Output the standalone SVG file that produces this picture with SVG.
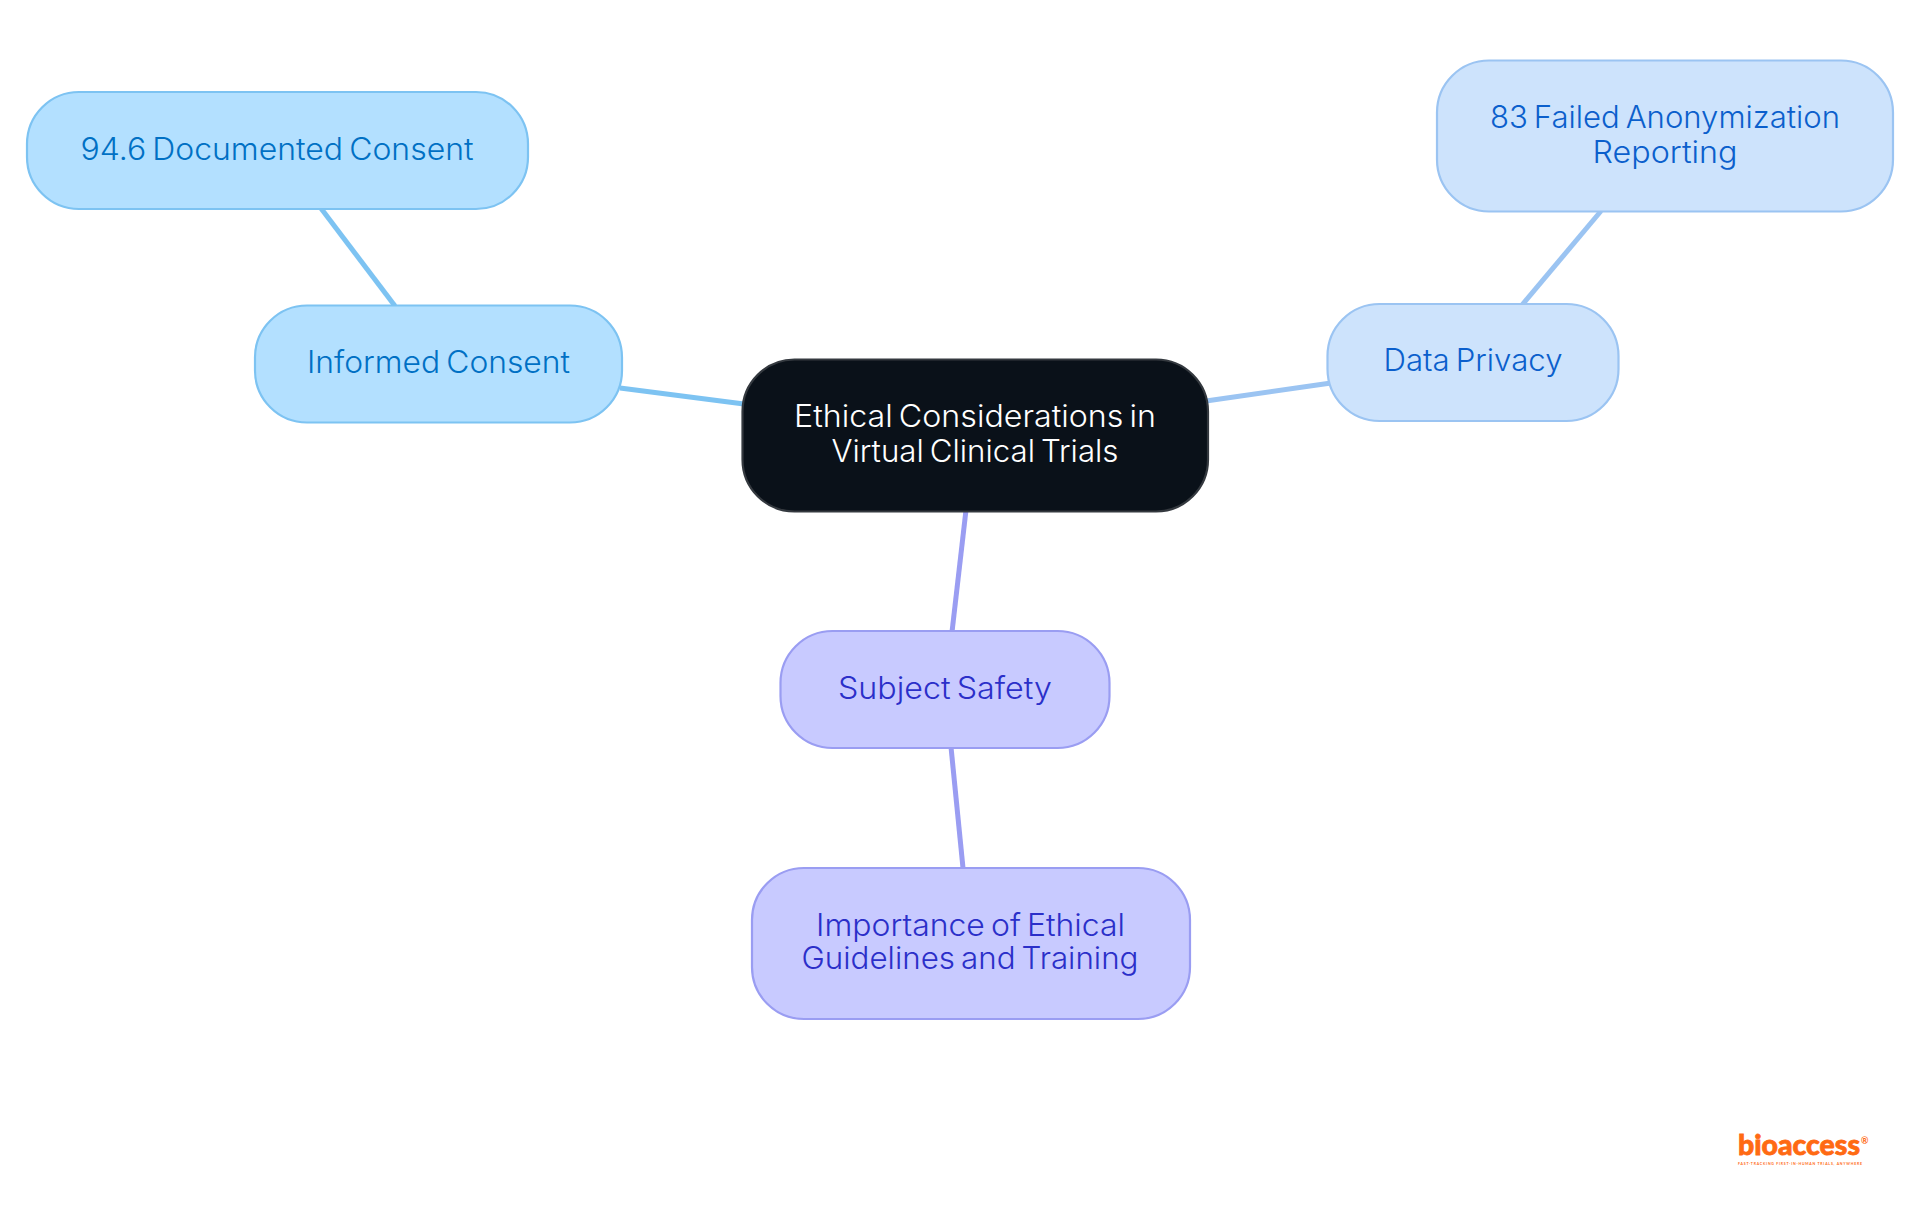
<svg xmlns="http://www.w3.org/2000/svg" width="1920" height="1215" viewBox="0 0 1920 1215">
<style>
text{font-family:"Inter","Noto Sans","Liberation Sans",sans-serif;font-size:30.5px;font-weight:300;text-anchor:middle;word-spacing:-0.09em}
.box{stroke-width:2.2}
.blue rect{fill:#b3e0ff;stroke:#7dc3f2}.blue text{fill:#0070c4}
.sky rect{fill:#cde3fc;stroke:#9bc4f2}.sky text{fill:#0b5fcc}
.vio rect{fill:#c8caff;stroke:#9a9df2}.vio text{fill:#2b2fc9}
.root rect{fill:#0a1119;stroke:#34393f}.root text{fill:#fff}
#connectors line{stroke-width:5;fill:none}
#logo text{fill:#ff6a13;text-anchor:start;font-family:"Lato","Liberation Sans",sans-serif;word-spacing:0}
</style>
<rect width="1920" height="1215" fill="#fff"/>
<g id="connectors">
<line x1="620" y1="388" x2="744" y2="404" stroke="#7dc3f2"/>
<line x1="320" y1="207" x2="395" y2="306" stroke="#7dc3f2"/>
<line x1="1206" y1="401" x2="1331" y2="383" stroke="#9bc4f2"/>
<line x1="1522" y1="305" x2="1601" y2="211" stroke="#9bc4f2"/>
<line x1="966" y1="510" x2="952" y2="632" stroke="#9a9df2"/>
<line x1="951" y1="747" x2="963" y2="868" stroke="#9a9df2"/>
</g>
<g id="node-root" class="root"><rect class="box" x="742.500" y="359.500" width="465.500" height="152" rx="52"/>
<text x="975" y="427" textLength="362" lengthAdjust="spacingAndGlyphs">Ethical Considerations in</text>
<text x="975" y="462" textLength="287" lengthAdjust="spacingAndGlyphs">Virtual Clinical Trials</text></g>
<g id="node-informed" class="blue"><rect class="box" x="255" y="305.500" width="367" height="117" rx="52"/>
<text x="438.500" y="373" textLength="263" lengthAdjust="spacingAndGlyphs">Informed Consent</text></g>
<g id="node-documented" class="blue"><rect class="box" x="27" y="92" width="501" height="117" rx="52"/>
<text x="277" y="160" textLength="393" lengthAdjust="spacingAndGlyphs">94.6 Documented Consent</text></g>
<g id="node-privacy" class="sky"><rect class="box" x="1327.500" y="304" width="291" height="117" rx="52"/>
<text x="1473" y="370.500" textLength="179" lengthAdjust="spacingAndGlyphs">Data Privacy</text></g>
<g id="node-anonymization" class="sky"><rect class="box" x="1437" y="60.500" width="456" height="151" rx="52"/>
<text x="1665" y="128" textLength="350" lengthAdjust="spacingAndGlyphs">83 Failed Anonymization</text>
<text x="1665" y="163" textLength="145" lengthAdjust="spacingAndGlyphs">Reporting</text></g>
<g id="node-safety" class="vio"><rect class="box" x="780.500" y="631" width="329" height="117" rx="52"/>
<text x="945" y="699" textLength="214" lengthAdjust="spacingAndGlyphs">Subject Safety</text></g>
<g id="node-guidelines" class="vio"><rect class="box" x="752" y="868" width="438" height="151" rx="52"/>
<text x="970.500" y="935.500" textLength="309" lengthAdjust="spacingAndGlyphs">Importance of Ethical</text>
<text x="970" y="969" textLength="337" lengthAdjust="spacingAndGlyphs">Guidelines and Training</text></g>
<g id="logo">
<text x="1738" y="1155" style="font-size:29px;font-weight:900;stroke:#ff6a13;stroke-width:.8" textLength="122" lengthAdjust="spacingAndGlyphs">bioaccess</text>
<text x="1861" y="1144" style="font-size:9px;font-weight:700">®</text>
<text x="1738" y="1164.500" style="font-size:3.500px;font-weight:700" textLength="124" lengthAdjust="spacing">FAST-TRACKING FIRST-IN-HUMAN TRIALS, ANYWHERE</text>
</g>
</svg>
